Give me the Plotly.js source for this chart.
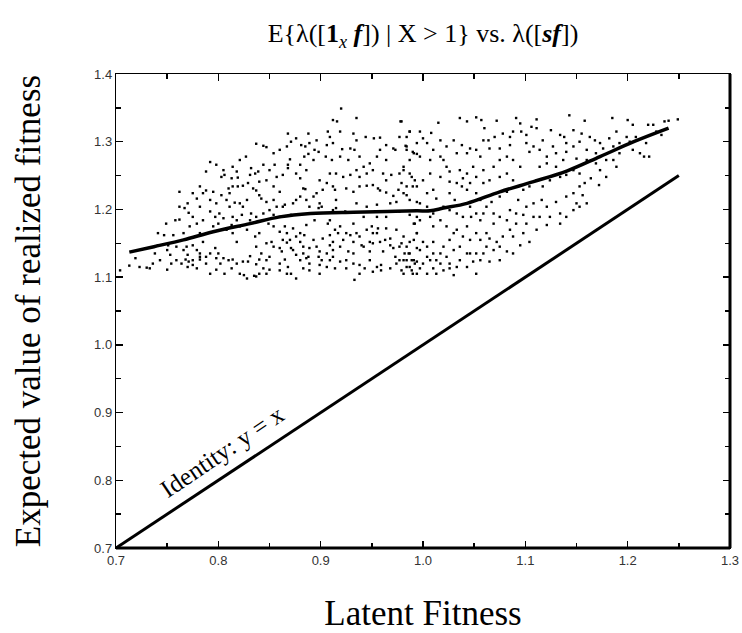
<!DOCTYPE html>
<html>
<head>
<meta charset="utf-8">
<script src="https://cdn.plot.ly/plotly-3.0.1.min.js"></script>
<style>html,body{margin:0;padding:0;background:#fff;}#chart{width:742px;height:633px;}</style>
</head>
<body>
<div id="chart"></div>
<script>
// Scatter cloud: latent fitness (x) vs expected realized fitness (y)
const scatterX = [
0.920,0.935,0.912,0.916,0.979,0.987,0.919,0.868,0.888,0.907,0.932,0.876,0.871,0.837,0.844,0.847,0.881,0.885,0.894,0.898,
0.935,0.944,0.952,0.958,0.971,0.973,0.983,0.984,0.990,0.994,0.929,0.933,0.938,0.927,0.921,0.919,0.911,0.905,0.893,0.888,
0.884,0.870,0.868,0.868,0.855,0.850,0.844,0.832,0.831,0.836,0.839,0.819,0.813,0.798,0.792,0.788,0.805,0.806,0.803,0.762,
0.788,0.779,0.770,0.762,0.767,0.771,0.762,0.758,0.749,0.741,0.747,0.756,0.741,0.751,0.738,0.753,0.719,0.723,0.730,0.733,
0.704,0.750,0.754,0.764,0.770,0.775,0.779,0.779,0.782,0.782,0.775,0.797,0.800,0.802,0.798,0.805,0.810,0.814,0.818,0.824,
0.825,0.828,0.835,0.840,0.837,0.844,0.847,0.850,0.860,0.865,0.868,0.871,0.876,0.880,0.886,0.889,0.899,0.906,0.909,0.912,
0.919,0.925,0.932,0.933,0.938,0.943,0.948,0.955,0.959,0.968,0.974,0.979,0.984,0.989,0.994,
0.810,0.814,0.819,0.824,0.811,0.816,0.821,0.824,0.828,0.834,0.837,0.840,0.842,0.847,0.854,0.854,0.860,0.863,0.865,0.880,
0.883,0.885,0.893,0.899,0.901,0.912,0.914,0.915,0.915,0.925,0.932,0.938,0.945,0.951,0.956,0.958,0.964,0.971,0.976,0.979,
0.984,0.990,0.994,0.935,0.945,0.955,0.968,0.974,
0.821,0.828,0.836,0.840,0.847,0.852,0.860,0.867,0.870,0.876,0.880,0.884,0.893,0.896,0.902,0.909,0.914,0.919,0.925,0.932,
0.938,0.945,0.950,0.955,0.958,0.964,0.968,0.974,0.981,0.987,0.992,0.994,0.909,0.907,0.795,0.800,0.808,0.814,0.818,0.782,
0.785,0.775,0.769,0.766,0.837,0.842,0.854,0.862,0.873,0.883,0.889,0.899,0.912,0.919,0.927,0.932,0.942,0.948,0.951,0.961,
0.971,0.977,0.986,0.994,
0.832,0.823,0.854,0.860,0.871,0.889,0.898,0.912,0.924,0.849,0.854,0.865,0.873,0.886,0.894,0.932,0.942,0.955,0.964,0.977,
0.987,0.994,
1.143,1.052,1.036,1.043,1.057,1.072,1.091,1.111,1.158,1.185,1.200,1.205,1.220,1.225,1.236,1.240,1.249,1.015,0.978,0.987,
1.008,1.030,1.000,1.038,1.046,1.060,1.059,1.065,1.075,1.085,1.095,1.096,1.106,1.111,1.125,1.134,1.138,1.147,1.155,1.163,
1.168,1.173,1.182,1.189,1.199,1.202,1.208,1.218,1.228,1.233,1.221,1.216,1.192,1.189,1.179,1.173,1.172,1.164,1.158,1.153,
1.160,1.150,1.140,1.137,1.130,1.121,1.114,1.108,1.101,1.104,1.095,1.088,1.082,1.075,1.069,1.059,1.056,1.049,1.043,1.036,
1.026,1.023,1.020,1.017,1.010,1.007,0.997,0.991,0.984,0.981,0.989,0.994,1.004,1.010,1.013,1.020,1.026,1.031,1.038,1.043,
1.052,1.056,1.062,1.067,1.075,1.082,1.085,1.093,1.101,1.108,1.116,1.121,1.130,1.134,1.140,1.147,1.150,1.156,1.147,1.121,
1.108,1.098,1.091,1.085,1.078,1.069,1.062,1.056,1.062,1.065,1.056,1.049,1.046,1.039,1.033,1.030,1.026,1.020,1.017,1.013,
1.010,1.007,1.000,0.997,0.992,0.987,0.981,0.984,0.991,0.997,1.007,1.010,1.017,1.023,1.043,1.047,1.052,1.056,0.994,1.000,
1.004,0.991,1.075,1.082,1.095,1.104,1.026,1.020,1.033,1.043,1.010,0.979,0.981,1.004
];
const scatterY = [
1.349,1.335,1.332,1.330,1.330,1.315,1.315,1.312,1.312,1.315,1.312,1.305,1.300,1.297,1.294,1.292,1.295,1.293,1.288,1.285,
1.302,1.307,1.305,1.306,1.290,1.288,1.294,1.288,1.285,1.282,1.290,1.288,1.278,1.273,1.289,1.278,1.273,1.278,1.273,1.282,
1.278,1.274,1.266,1.261,1.266,1.258,1.266,1.261,1.251,1.253,1.256,1.247,1.246,1.266,1.270,1.256,1.258,1.251,1.248,1.226,
1.228,1.216,1.209,1.204,1.202,1.195,1.185,1.184,1.179,1.165,1.162,1.162,1.147,1.147,1.135,1.133,1.128,1.115,1.114,1.113,
1.110,1.111,1.120,1.120,1.115,1.118,1.113,1.140,1.135,1.130,1.125,1.143,1.135,1.120,1.111,1.128,1.125,1.126,1.120,1.123,
1.103,1.098,1.102,1.105,1.119,1.113,1.125,1.111,1.120,1.126,1.115,1.105,1.098,1.125,1.128,1.120,1.118,1.115,1.125,1.130,
1.123,1.125,1.120,1.096,1.118,1.113,1.125,1.115,1.110,1.113,1.120,1.110,1.125,1.125,1.123,
1.231,1.234,1.234,1.235,1.224,1.210,1.209,1.204,1.214,1.231,1.228,1.221,1.216,1.211,1.214,1.234,1.226,1.204,1.207,1.246,
1.231,1.230,1.219,1.209,1.204,1.234,1.229,1.214,1.202,1.231,1.226,1.234,1.235,1.236,1.231,1.228,1.225,1.220,1.229,1.239,
1.221,1.234,1.211,1.209,1.204,1.207,1.209,1.211,
1.175,1.170,1.160,1.165,1.150,1.152,1.167,1.165,1.155,1.160,1.165,1.162,1.155,1.145,1.157,1.162,1.170,1.175,1.165,1.152,
1.160,1.170,1.175,1.165,1.152,1.172,1.157,1.170,1.160,1.152,1.179,1.165,1.184,1.179,1.175,1.179,1.170,1.165,1.152,1.165,
1.152,1.147,1.145,1.140,1.145,1.135,1.145,1.138,1.140,1.135,1.143,1.138,1.140,1.145,1.138,1.135,1.145,1.138,1.150,1.138,
1.143,1.145,1.135,1.143,
1.194,1.192,1.192,1.189,1.192,1.204,1.202,1.199,1.197,1.179,1.175,1.175,1.172,1.177,1.184,1.179,1.189,1.189,1.189,1.197,
1.192,1.189,
1.339,1.336,1.335,1.330,1.332,1.331,1.335,1.333,1.331,1.335,1.332,1.325,1.325,1.325,1.330,1.331,1.333,1.328,1.330,1.315,
1.313,1.302,1.305,1.295,1.290,1.320,1.302,1.290,1.290,1.295,1.327,1.315,1.322,1.320,1.317,1.310,1.307,1.317,1.312,1.307,
1.302,1.298,1.305,1.315,1.307,1.300,1.307,1.298,1.315,1.310,1.278,1.278,1.283,1.263,1.248,1.258,1.236,1.246,1.239,1.234,
1.273,1.275,1.285,1.273,1.263,1.268,1.263,1.293,1.298,1.285,1.263,1.273,1.278,1.273,1.263,1.258,1.278,1.263,1.253,1.258,
1.256,1.263,1.273,1.278,1.288,1.273,1.278,1.283,1.293,1.258,1.248,1.234,1.224,1.229,1.216,1.204,1.224,1.214,1.234,1.229,
1.224,1.214,1.204,1.211,1.219,1.226,1.199,1.214,1.204,1.209,1.214,1.204,1.211,1.194,1.219,1.224,1.209,1.221,1.199,1.177,
1.189,1.192,1.179,1.170,1.160,1.179,1.165,1.155,1.145,1.123,1.125,1.123,1.135,1.160,1.170,1.165,1.155,1.145,1.135,1.125,
1.113,1.125,1.120,1.113,1.120,1.135,1.125,1.145,1.179,1.184,1.189,1.175,1.184,1.175,1.175,1.189,1.194,1.184,1.165,1.152,
1.145,1.155,1.145,1.138,1.147,1.152,1.120,1.110,1.115,1.135,1.152,1.150,1.105,1.105
];
// Further points read from the left half of the cloud (x < 1.0)
const leftX = [
0.713,0.768,0.771,0.782,0.792,0.798,0.829,0.831,0.840,0.850,0.860,0.863,0.867,0.871,0.876,0.880,0.883,0.888,0.898,0.901,
0.906,0.909,0.912,0.917,0.922,0.929,0.935,0.940,0.948,0.951,0.956,0.963,0.968,0.973,0.977,0.982,0.987,0.990,0.959,0.951,
0.938,0.925,0.914,0.899,0.889,0.883,0.867,0.860,0.847,0.837,0.821,0.813,0.806,0.792,0.788,0.788,0.759,0.759,0.770,0.743,
0.736,0.750,0.766,0.772,0.785,0.779,0.775,0.782,0.792,0.797,0.801,0.798,0.792,0.782,0.775,0.785,0.795,0.803,0.808,0.811,
0.805,0.814,0.818,0.813,0.831,0.837,0.844,0.850,0.857,0.873,0.876,0.880,0.886,0.896,0.902,0.906,0.899,0.909,0.915,0.922,
0.929,0.938,0.945,0.951,0.961,0.964,0.969,0.977,0.981,0.987,0.992,0.987,0.964,0.955,0.948,0.942,0.935,0.886,0.880,0.876,
0.863,0.857,0.847,0.840,0.829,0.854,0.860,0.867,0.906,0.912,0.909,0.958,0.964,0.977,0.896,0.889,0.821,0.827,0.814,0.818
];
const leftY = [
1.117,1.126,1.123,1.126,1.135,1.128,1.123,1.131,1.126,1.130,1.143,1.155,1.151,1.143,1.133,1.152,1.145,1.130,1.130,1.125,
1.135,1.147,1.152,1.165,1.155,1.162,1.165,1.147,1.152,1.165,1.172,1.155,1.147,1.130,1.125,1.135,1.115,1.105,1.118,1.108,
1.105,1.113,1.113,1.105,1.110,1.113,1.105,1.110,1.105,1.101,1.105,1.113,1.105,1.105,1.120,1.130,1.125,1.145,1.133,1.125,
1.120,1.140,1.165,1.175,1.184,1.179,1.189,1.204,1.197,1.189,1.194,1.209,1.214,1.234,1.224,1.224,1.226,1.221,1.214,1.204,
1.187,1.189,1.184,1.177,1.184,1.189,1.194,1.199,1.204,1.209,1.214,1.219,1.214,1.224,1.229,1.239,1.243,1.253,1.253,1.248,
1.251,1.248,1.253,1.258,1.253,1.243,1.251,1.253,1.263,1.253,1.243,1.273,1.273,1.278,1.268,1.263,1.258,1.258,1.266,1.253,
1.251,1.248,1.243,1.241,1.239,1.283,1.288,1.293,1.295,1.298,1.307,1.288,1.295,1.307,1.302,1.298,1.273,1.278,1.263,1.256
];
// Further points read from the right half of the cloud (x > 0.98)
const rightX = [
0.984,0.994,0.997,1.004,1.017,1.023,1.033,1.043,1.052,1.064,1.070,1.078,1.085,1.088,1.101,1.117,1.127,1.130,1.114,1.121,
1.140,1.147,1.153,1.160,1.169,1.176,1.186,1.192,1.205,1.212,1.179,1.186,1.169,1.147,1.153,1.140,1.134,1.124,1.117,1.111,
1.104,1.098,1.088,1.082,1.075,1.065,1.059,1.052,1.046,1.039,1.033,1.026,1.017,1.007,1.000,0.984,0.981,0.987,0.997,1.004,
1.010,1.026,1.033,1.039,1.046,1.059,1.069,1.075,1.082,1.091,1.101,1.114,1.124,1.140,1.153,1.160,1.134,1.111,1.098,1.088,
1.072,1.065,1.052,1.046,1.036,1.030,1.023,1.017,1.010,1.004,0.997,0.991,0.984,0.994,0.989,1.013,1.026,1.036,1.043,1.052,
1.059,1.069,1.088,1.075,1.052,1.030
];
const rightY = [
1.307,1.298,1.315,1.298,1.302,1.293,1.283,1.283,1.288,1.302,1.307,1.312,1.307,1.315,1.310,1.302,1.293,1.283,1.288,1.278,
1.298,1.293,1.300,1.288,1.283,1.290,1.293,1.298,1.288,1.283,1.273,1.273,1.268,1.258,1.253,1.251,1.248,1.243,1.234,1.243,
1.234,1.229,1.243,1.253,1.248,1.243,1.239,1.248,1.239,1.246,1.239,1.241,1.248,1.253,1.243,1.234,1.224,1.214,1.209,1.204,
1.194,1.199,1.194,1.189,1.204,1.194,1.194,1.189,1.184,1.194,1.179,1.189,1.189,1.189,1.204,1.209,1.179,1.170,1.165,1.160,
1.152,1.157,1.165,1.155,1.145,1.140,1.130,1.120,1.135,1.130,1.140,1.125,1.115,1.105,1.110,1.105,1.113,1.125,1.115,1.135,
1.135,1.140,1.135,1.125,1.105,1.103
];
// Smoothed trend curve through the cloud
const trendX = [0.713,0.737,0.766,0.795,0.831,0.860,0.890,0.932,0.965,0.994,1.007,1.020,1.043,1.075,1.108,1.141,1.173,1.206,1.240];
const trendY = [1.137,1.145,1.155,1.167,1.179,1.189,1.194,1.196,1.197,1.198,1.198,1.202,1.209,1.226,1.241,1.257,1.278,1.300,1.320];
// Identity line y = x
const identityX = [0.70, 1.25];
const identityY = [0.70, 1.25];
const xTicks = [0.7,0.8,0.9,1.0,1.1,1.2,1.3];
const yTicks = [0.7,0.8,0.9,1.0,1.1,1.2,1.3,1.4];

const serif = 'Liberation Serif, Times New Roman, serif';
const sans = 'Liberation Sans, Arial, sans-serif';

const allX = scatterX.concat(leftX, rightX);
const allY = scatterY.concat(leftY, rightY);

const traces = [
  {x: allX, y: allY, type:'scatter', mode:'markers',
   marker:{symbol:'square', size:2.4, color:'#000'}, hoverinfo:'skip'},
  {x: trendX, y: trendY, type:'scatter', mode:'lines',
   line:{color:'#000', width:3.5, shape:'spline', smoothing:1}},
  {x: identityX, y: identityY, type:'scatter', mode:'lines',
   line:{color:'#000', width:3}}
];

const axisCommon = {
  ticks:'inside', ticklen:7, tickwidth:1.4, tickcolor:'#000',
  showline:true, linecolor:'#000', linewidth:1.2, mirror:'ticks',
  showgrid:false, zeroline:false,
  tickfont:{family:sans, size:13, color:'#333'},
  minor:{ticks:'inside', ticklen:5, tickwidth:1.4, tickcolor:'#000', dtick:0.05, showgrid:false}
};

const layout = {
  width:742, height:633,
  margin:{l:116, r:12, t:74, b:85},
  paper_bgcolor:'#fff', plot_bgcolor:'#fff',
  showlegend:false,
  title:{
    text:'E{λ([<b>1</b><sub><i>x</i></sub> <b><i>f</i></b>]) | X &gt; 1} vs. λ([<b><i>sf</i></b>])',
    font:{family:serif, size:26, color:'#000'},
    x:0.5, xref:'paper', y:1-33/633, yref:'container', yanchor:'middle'
  },
  xaxis:Object.assign({}, axisCommon, {
    range:[0.7,1.3], tickvals:xTicks, tickformat:'.1f',
    title:{text:'Latent Fitness', font:{family:serif, size:35, color:'#000'}, standoff:35}
  }),
  yaxis:Object.assign({}, axisCommon, {
    range:[0.7,1.4], tickvals:yTicks, tickformat:'.1f',
    title:{text:'Expected value of realized fitness', font:{family:serif, size:35, color:'#000'}, standoff:42}
  }),
  shapes:[
    {type:'line', xref:'paper', yref:'paper', x0:1, x1:1, y0:0, y1:1, line:{color:'#000', width:3}},
    {type:'line', xref:'paper', yref:'paper', x0:0, x1:1, y0:0, y1:0, line:{color:'#000', width:3}}
  ],
  annotations:[
    {x:0.804, y:0.842, xref:'x', yref:'y', text:'Identity: y = x', showarrow:false,
     textangle:-34, xanchor:'center', yanchor:'middle',
     font:{family:serif, size:25, color:'#000'}}
  ]
};

Plotly.newPlot('chart', traces, layout, {displayModeBar:false, staticPlot:true});
</script>
</body>
</html>
